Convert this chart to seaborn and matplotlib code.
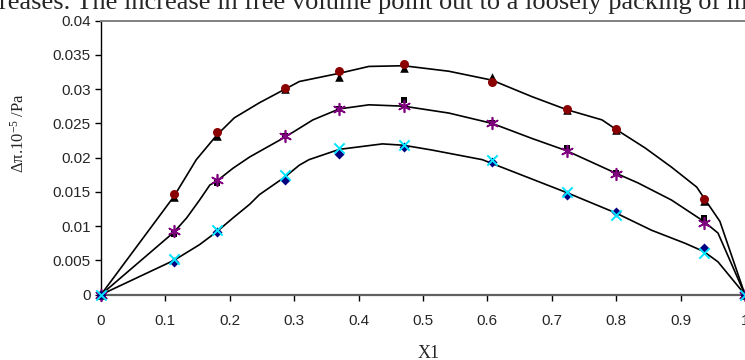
import matplotlib
matplotlib.use('Agg')
import matplotlib.pyplot as plt
import seaborn as sns
from matplotlib.ticker import FuncFormatter, MultipleLocator

# measured points (x1 mole fraction)
x_pts = [0, 0.113, 0.18, 0.286, 0.37, 0.47, 0.607, 0.723, 0.8, 0.936, 1.0]
tri = [0, 0.0142, 0.0231, 0.0300, 0.0317, 0.0330, 0.0318, 0.0270, 0.0240, 0.0136, 0]
circ = [0, 0.0147, 0.0237, 0.0301, 0.0326, 0.0336, 0.0311, 0.0271, 0.0241, 0.0140, 0]
square = [0, 0.0089, 0.0163, 0.0231, 0.0271, 0.0284, 0.0251, 0.0214, 0.0177, 0.0112, 0]
aster = [0, 0.0093, 0.0167, 0.0231, 0.0271, 0.0275, 0.0250, 0.0209, 0.0176, 0.0104, 0]
diamond = [0, 0.0048, 0.0091, 0.0167, 0.0205, 0.0216, 0.0194, 0.0146, 0.0121, 0.0068, 0]
xmark = [0, 0.0052, 0.0095, 0.0175, 0.0214, 0.0219, 0.0196, 0.0150, 0.0116, 0.0061, 0]

# fitted curves
top_x = [0, 0.113, 0.148, 0.18, 0.207, 0.246, 0.286, 0.308, 0.37, 0.416, 0.47, 0.54,
         0.607, 0.669, 0.723, 0.778, 0.8, 0.845, 0.886, 0.925, 0.94, 0.961, 1.0]
top_y = [0, 0.0143, 0.0197, 0.0233, 0.0258, 0.0280, 0.0300, 0.0311, 0.0323, 0.0333, 0.0334, 0.0326,
         0.0313, 0.0289, 0.0270, 0.0255, 0.0241, 0.0214, 0.0186, 0.0157, 0.0136, 0.0107, 0]
mid_x = [0, 0.113, 0.133, 0.153, 0.169, 0.18, 0.205, 0.231, 0.286, 0.329, 0.37, 0.416, 0.47,
         0.54, 0.607, 0.669, 0.723, 0.8, 0.834, 0.886, 0.936, 0.958, 1.0]
mid_y = [0, 0.0091, 0.0112, 0.0138, 0.0160, 0.0166, 0.01845, 0.0201, 0.0230, 0.0255, 0.0271, 0.0277, 0.0275,
         0.0265, 0.0250, 0.0228, 0.0210, 0.0177, 0.0163, 0.0138, 0.0107, 0.0090, 0]
bot_x = [0, 0.113, 0.127, 0.153, 0.18, 0.205, 0.231, 0.246, 0.286, 0.308, 0.323, 0.37, 0.437, 0.47,
         0.514, 0.592, 0.723, 0.8, 0.855, 0.907, 0.936, 0.958, 1.0]
bot_y = [0, 0.0050, 0.0058, 0.0073, 0.0092, 0.0112, 0.0132, 0.0146, 0.0172, 0.0189, 0.0197, 0.0212, 0.0220, 0.0218,
         0.0211, 0.0197, 0.0149, 0.0119, 0.0094, 0.0075, 0.0063, 0.0048, 0]

sns.set_style("white")
plt.rcParams['font.family'] = ['Liberation Sans', 'DejaVu Sans']
plt.rcParams['mathtext.fontset'] = 'custom'
plt.rcParams['mathtext.rm'] = 'Liberation Serif'
plt.rcParams['mathtext.default'] = 'rm'

fig = plt.figure(figsize=(7.45, 3.6), dpi=100)
ax = fig.add_axes([101 / 745, 1 - 294.7 / 360, 644 / 745, 274.2 / 360])

for cx, cy in [(top_x, top_y), (mid_x, mid_y), (bot_x, bot_y)]:
    sns.lineplot(x=cx, y=cy, ax=ax, color='black', lw=1.2, sort=False,
                 estimator=None, zorder=2)

series = [
    (tri, '^', 'black', 38, 0),
    (circ, 'o', '#8b0000', 42, 0),
    (square, 's', 'black', 22, 0),
    (aster, (6, 2, 0), '#800080', 70, 1.2),
    (diamond, 'D', '#000080', 26, 0),
    (xmark, 'x', '#00e5ff', 55, 1.4),
]
for vals, mk, col, size, lw in series:
    sns.scatterplot(x=x_pts, y=vals, ax=ax, marker=mk, color=col, s=size,
                    edgecolor=col if lw == 0 else None, linewidth=lw,
                    zorder=3, clip_on=False, legend=False)

ax.set_xlim(0, 1)
ax.set_ylim(0, 0.04)
ax.xaxis.set_major_locator(MultipleLocator(0.1))
ax.yaxis.set_major_locator(MultipleLocator(0.005))
fmt = FuncFormatter(lambda v, p: '%g' % round(v, 4))
ax.xaxis.set_major_formatter(fmt)
ax.yaxis.set_major_formatter(fmt)
ax.tick_params(axis='both', which='major', labelsize=11, length=4, width=1,
               direction='out', color='black', left=True, bottom=True)
ax.tick_params(axis='x', pad=10)

ax.spines['left'].set_color('black')
ax.spines['left'].set_linewidth(1)
ax.spines['bottom'].set_color('#606060')
ax.spines['bottom'].set_linewidth(1.6)
ax.spines['top'].set_color('#808080')
ax.spines['top'].set_linewidth(1.4)
ax.spines['right'].set_visible(False)
ax.set_xlabel('')
ax.set_ylabel('')

fig.text(19 / 745, 1 - 133 / 360, 'Δπ.10$^{-5}$ /Pa', rotation=90, ha='center', va='center',
         fontsize=12, family='Liberation Serif')
fig.text(429 / 745, 1 - 353 / 360, 'X1', ha='center', va='center',
         fontsize=13, family='Liberation Serif')
fig.text(-0.002, 1 - 9.5 / 360, 'reases. The increase in free volume point out to a loosely packing of m',
         ha='left', va='baseline', fontsize=19, family='Liberation Serif')

fig.savefig('out.png', dpi=100)
